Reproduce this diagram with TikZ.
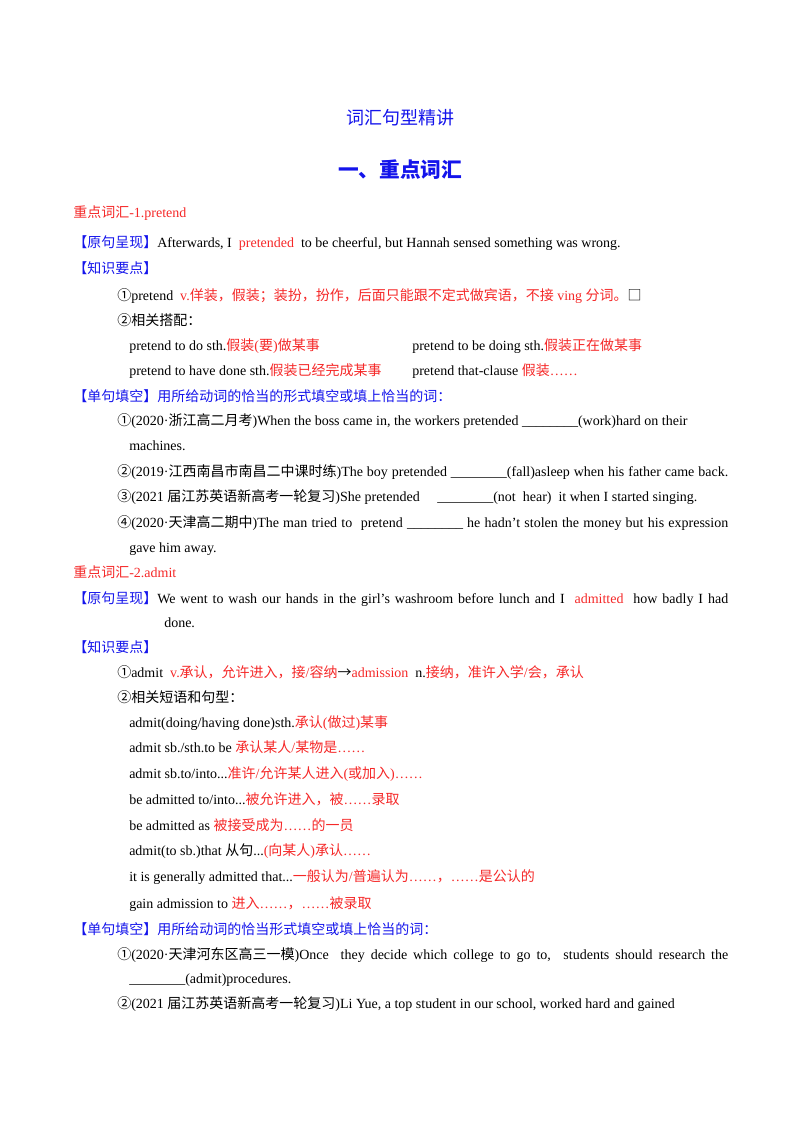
\documentclass[tikz,border=0pt]{standalone}
\usepackage{fontspec}
\setmainfont{Liberation Serif}
\newfontfamily\cjkf{Noto Sans CJK SC}
\newfontfamily\latf{Liberation Serif}
\XeTeXinterchartokenstate=1
\newXeTeXintercharclass\cjkcls
\count255="3000 \loop\XeTeXcharclass\count255=\cjkcls\advance\count255 1 \ifnum\count255<"A000 \repeat
\count255="FF00 \loop\XeTeXcharclass\count255=\cjkcls\advance\count255 1 \ifnum\count255<"FFF0 \repeat
\count255="2460 \loop\XeTeXcharclass\count255=\cjkcls\advance\count255 1 \ifnum\count255<"2500 \repeat
\count255="25A0 \loop\XeTeXcharclass\count255=\cjkcls\advance\count255 1 \ifnum\count255<"2600 \repeat
\XeTeXcharclass"2192=\cjkcls
\XeTeXinterchartoks 0 \cjkcls {\cjkf}
\XeTeXinterchartoks 4095 \cjkcls {\cjkf}
\XeTeXinterchartoks \cjkcls 0 {\latf}
\XeTeXinterchartoks \cjkcls 4095 {\latf}
\definecolor{rd}{RGB}{245,40,40}
\definecolor{bl}{RGB}{20,20,235}
\newcommand\R[1]{{\color{rd}#1}}
\newcommand\B[1]{{\color{bl}#1}}
\newcommand\J[2]{\makebox[\dimexpr(728pt-#1pt)*3/4\relax][s]{#2}}
\begin{document}
\begin{tikzpicture}[x=0.75pt,y=-0.75pt,
  ln/.style={anchor=base west,inner sep=0pt,font=\fontsize{10.5}{12}\selectfont}]
\useasboundingbox (0,0) rectangle (800,1132);
\node[inner sep=0pt,font=\fontsize{13.5}{15}\selectfont,text=bl] (t1) at (400,118) {词汇句型精讲};
\node[inner sep=0pt,font=\fontsize{15.5}{17}\bfseries\selectfont,text=bl] (t2) at (400,170) {一、重点词汇};
\node[ln] (a1) at (73,217) {\R{重点词汇-1.pretend}};
\node[ln] (a2) at (73,247) {\B{【原句呈现】}Afterwards, I \ \R{pretended} \ to be cheerful, but Hannah sensed something was wrong.};
\node[ln] (a3) at (73,273) {\B{【知识要点】}};
\node[ln] (a4) at (117,300) {①pretend \ \R{v.佯装，假装；装扮，扮作，后面只能跟不定式做宾语，不接 ving 分词。}□};
\node[ln] (a5) at (117,325) {②相关搭配：};
\node[ln] (a6) at (129,350) {pretend to do sth.\R{假装(要)做某事}};
\node[ln] (a7) at (412,350) {pretend to be doing sth.\R{假装正在做某事}};
\node[ln] (a8) at (129,375) {pretend to have done sth.\R{假装已经完成某事}};
\node[ln] (a9) at (412,375) {pretend that-clause \R{假装……}};
\node[ln] (b1) at (73,401) {\B{【单句填空】用所给动词的恰当的形式填空或填上恰当的词：}};
\node[ln] (b2) at (117,425) {①(2020·浙江高二月考)When the boss came in, the workers pretended \_\_\_\_\_\_\_\_(work)hard on their};
\node[ln] (b3) at (129,450) {machines.};
\node[ln] (b4) at (117,476) {\J{117}{②(2019·江西南昌市南昌二中课时练)The boy pretended \_\_\_\_\_\_\_\_(fall)asleep when his father came back.}};
\node[ln] (b5) at (117,501) {③(2021 届江苏英语新高考一轮复习)She pretended \quad \_\_\_\_\_\_\_\_(not \ hear) \ it when I started singing.};
\node[ln] (b6) at (117,527) {\J{117}{④(2020·天津高二期中)The man tried to \ pretend \_\_\_\_\_\_\_\_ he hadn’t stolen the money but his expression}};
\node[ln] (b7) at (129,552) {gave him away.};
\node[ln] (c1) at (73,577) {\R{重点词汇-2.admit}};
\node[ln] (c2) at (73,603) {\J{73}{\B{【原句呈现】}We went to wash our hands in the girl’s washroom before lunch and I \ \R{admitted} \ how badly I had}};
\node[ln] (c3) at (164,627) {done.};
\node[ln] (c4) at (73,652) {\B{【知识要点】}};
\node[ln] (c5) at (117,677) {①admit \ \R{v.承认，允许进入，接/容纳}→\R{admission} \ n.\R{接纳，准许入学/会，承认}};
\node[ln] (c6) at (117,702) {②相关短语和句型：};
\node[ln] (d1) at (129,727) {admit(doing/having done)sth.\R{承认(做过)某事}};
\node[ln] (d2) at (129,752) {admit sb./sth.to be \R{承认某人/某物是……}};
\node[ln] (d3) at (129,778) {admit sb.to/into...\R{准许/允许某人进入(或加入)……}};
\node[ln] (d4) at (129,804) {be admitted to/into...\R{被允许进入，被……录取}};
\node[ln] (d5) at (129,830) {be admitted as \R{被接受成为……的一员}};
\node[ln] (d6) at (129,855) {admit(to sb.)that 从句...\R{(向某人)承认……}};
\node[ln] (d7) at (129,881) {it is generally admitted that...\R{一般认为/普遍认为……，……是公认的}};
\node[ln] (d8) at (129,908) {gain admission to \R{进入……，……被录取}};
\node[ln] (e1) at (73,934) {\B{【单句填空】用所给动词的恰当形式填空或填上恰当的词：}};
\node[ln] (e2) at (117,959) {\J{117}{①(2020·天津河东区高三一模)Once \ they decide which college to go to, \ students should research the}};
\node[ln] (e3) at (129,983) {\_\_\_\_\_\_\_\_(admit)procedures.};
\node[ln] (e4) at (117,1008) {②(2021 届江苏英语新高考一轮复习)Li Yue, a top student in our school, worked hard and gained};
\end{tikzpicture}
\end{document}
